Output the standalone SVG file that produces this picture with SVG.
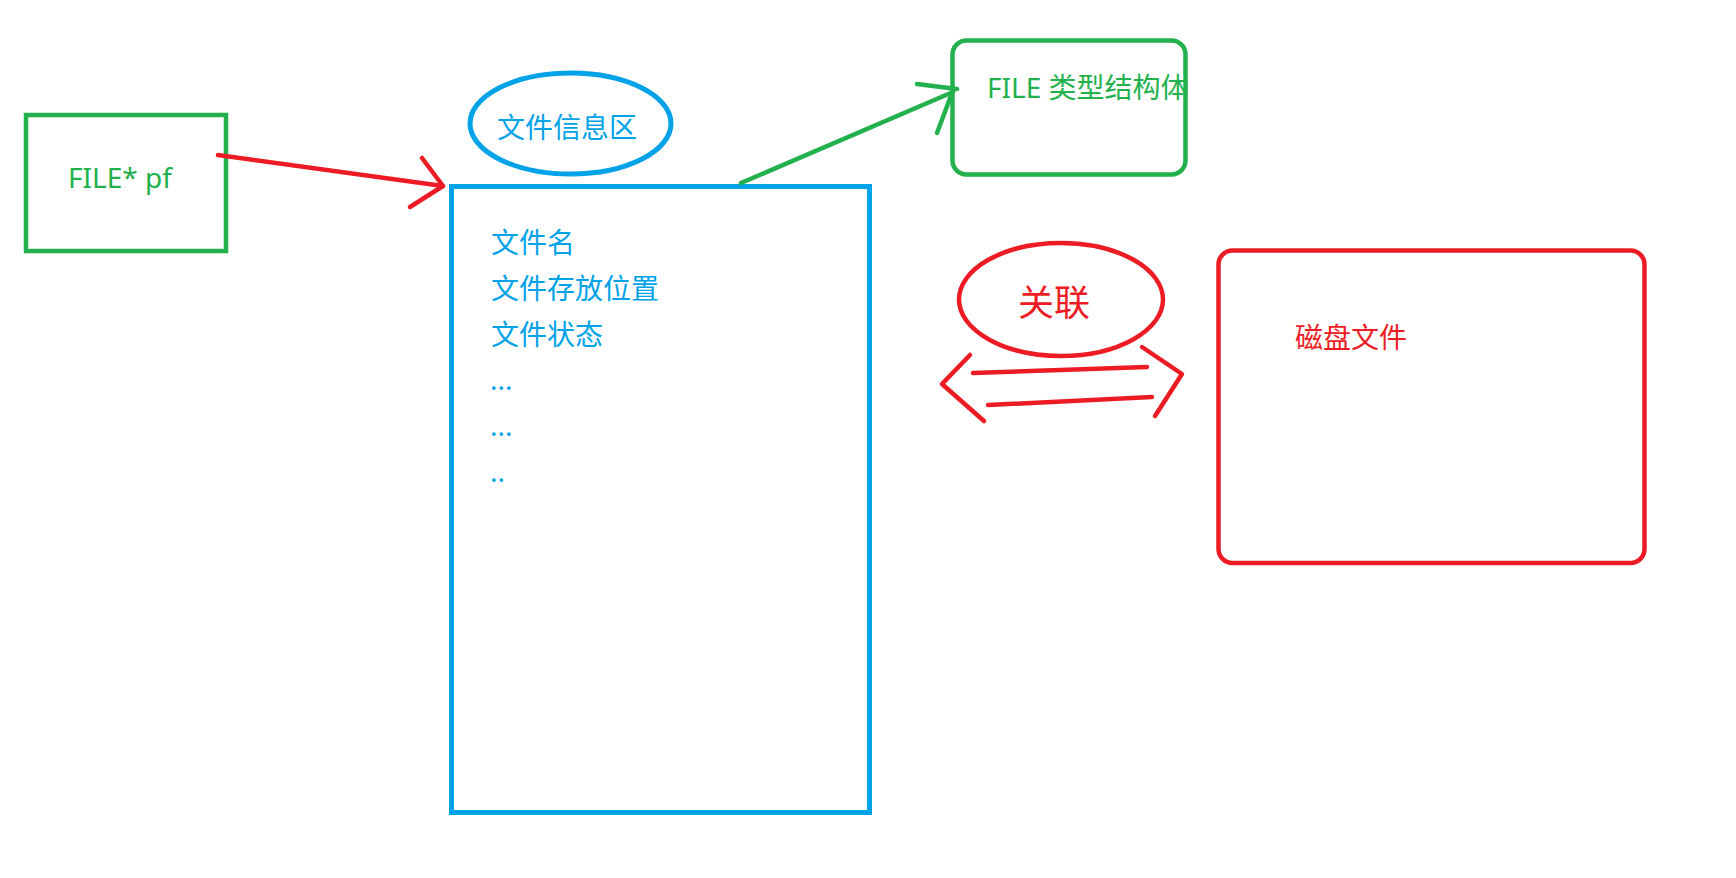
<svg xmlns="http://www.w3.org/2000/svg" width="1736" height="878" viewBox="0 0 1736 878">
<style>
.t{font-family:"Noto Sans","Noto Sans CJK SC",sans-serif;font-size:28px}
.big{font-size:36px}
.g{fill:#22B14C}.b{fill:#00A2E8}.r{fill:#ED1C24}
.sg{fill:none;stroke:#22B14C;stroke-width:4.5}
.sb{fill:none;stroke:#00A2E8;stroke-width:5}
.sr{fill:none;stroke:#ED1C24;stroke-width:4.5}
.ln{fill:none;stroke-width:4.5;stroke-linecap:round;stroke-linejoin:round}
</style>
<rect width="1736" height="878" fill="#fff"/>
<g id="pf">
<rect class="sg" x="26" y="115" width="200" height="136"/>
<text class="t g" x="68" y="188">FILE* pf</text>
</g>
<g id="info-label">
<ellipse class="sb" cx="570.5" cy="123.5" rx="100.5" ry="50.5"/>
<text class="t b" x="497" y="138">文件信息区</text>
</g>
<g id="info-box">
<rect class="sb" x="451.5" y="186.5" width="418" height="626"/>
<text class="t b" x="491" y="253">文件名</text>
<text class="t b" x="491" y="299">文件存放位置</text>
<text class="t b" x="491" y="345">文件状态</text>
<text class="t b" x="490" y="390">...</text>
<text class="t b" x="490" y="436">...</text>
<text class="t b" x="490" y="482">..</text>
</g>
<g id="file-struct">
<rect class="sg" x="952.5" y="40.5" width="233" height="134" rx="14"/>
<text class="t g" x="987" y="98">FILE 类型结构体</text>
</g>
<g id="assoc">
<ellipse class="sr" cx="1061" cy="299.5" rx="102" ry="56.5"/>
<text class="t big r" x="1018" y="316">关联</text>
</g>
<g id="disk">
<rect class="sr" x="1218.5" y="250.5" width="426" height="312.5" rx="14"/>
<text class="t r" x="1295" y="348">磁盘文件</text>
</g>
<g id="connectors">
<g stroke="#ED1C24" class="ln">
<path d="M218 155 L443 186"/>
<path d="M422 158 L443 186 L410 207"/>
</g>
<g stroke="#22B14C" class="ln">
<path d="M741 183 L953 92"/>
<path d="M917 84 L957 89"/>
<path d="M937 133 L952 93"/>
</g>
<g stroke="#ED1C24" class="ln">
<path d="M973 373 L1147 367"/>
<path d="M970 355 L942 384 L984 421"/>
<path d="M988 405 L1152 397"/>
<path d="M1142 347 L1182 374 L1155 416"/>
</g>
</g>
</svg>
